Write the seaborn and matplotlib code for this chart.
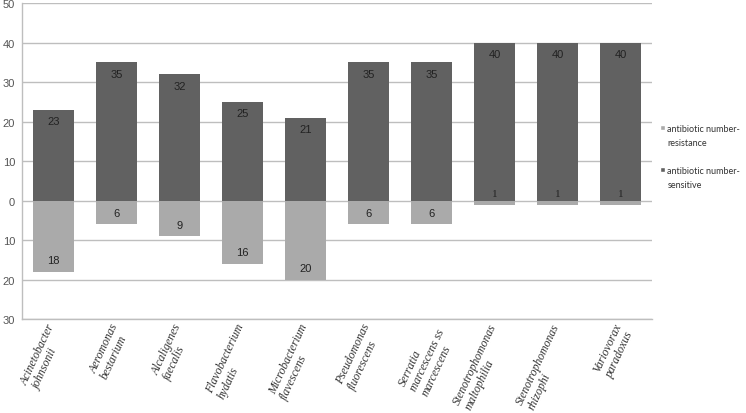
import matplotlib
matplotlib.use("Agg")
import matplotlib.pyplot as plt
import matplotlib.ticker as ticker
import matplotlib.transforms as mtransforms
from matplotlib.patches import Patch
import seaborn as sns

categories = ["Acinetobacter\njohnsonii", "Aeromonas\nbestarium", "Alcaligenes\nfaecalis",
              "Flavobacterium\nhydatis", "Microbacterium\nflavescens", "Pseudomonas\nfluorescens",
              "Serratia\nmarcescens ss\nmarcescens", "Stenotrophomonas\nmaltophilia",
              "Stenotrophomonas\nrhizophi", "Variovorax\nparadoxus"]
sensitive = [23, 35, 32, 25, 21, 35, 35, 40, 40, 40]
resistance = [18, 6, 9, 16, 20, 6, 6, 1, 1, 1]

dark = "#616161"
light = "#AAAAAA"

sns.set_style("white")
plt.rcParams["font.family"] = ["Liberation Sans", "DejaVu Sans"]

fig = plt.figure(figsize=(7.46, 4.14), dpi=100)
ax = fig.add_axes([0.0295, 0.227, 0.845, 0.763])

xs = list(range(len(categories)))
sns.barplot(x=xs, y=[-r for r in resistance], color=light, width=0.65,
            saturation=1, linewidth=0, ax=ax, zorder=3)
sns.barplot(x=xs, y=sensitive, color=dark, width=0.65,
            saturation=1, linewidth=0, ax=ax, zorder=3)

ax.set_ylim(-30, 50)
ax.set_xlim(-0.5, len(categories) - 0.5)
ax.yaxis.set_major_locator(ticker.MultipleLocator(10))
ax.yaxis.set_major_formatter(ticker.FuncFormatter(lambda v, p: "%d" % abs(v)))
ax.grid(axis="y", color="#BEBEBE", linewidth=1, zorder=0)
ax.set_axisbelow(True)

for s in ["top", "right"]:
    ax.spines[s].set_visible(False)
for s in ["left", "bottom"]:
    ax.spines[s].set_color("#BEBEBE")
    ax.spines[s].set_linewidth(1)

ax.tick_params(axis="y", length=0, labelsize=8, labelcolor="#555555", pad=5)
ax.tick_params(axis="x", length=0, pad=0)
ax.set_xticks(xs)
ax.set_xticklabels(categories, rotation=65, ha="right", va="top",
                   rotation_mode="anchor", multialignment="left", linespacing=1.1,
                   family="Liberation Serif", style="italic", fontsize=8.5, color="#333333")
shift = mtransforms.ScaledTranslation(-7 / 100, -2 / 100, fig.dpi_scale_trans)
for lbl in ax.get_xticklabels():
    lbl.set_transform(lbl.get_transform() + shift)
ax.set_xlabel("")
ax.set_ylabel("")

off = 2.9
for i, (s, r) in enumerate(zip(sensitive, resistance)):
    ax.text(i, s - off, str(s), ha="center", va="center", fontsize=8, color="#222222", zorder=4)
    fam = "Liberation Serif" if r == 1 else "Liberation Sans"
    ax.text(i, -r + off, str(r), ha="center", va="center", fontsize=8, color="#222222",
            family=fam, zorder=4)

blank = Patch(facecolor="none", edgecolor="none")
handles = [Patch(facecolor=light), blank, blank, Patch(facecolor=dark), blank]
labels = ["antibiotic number-", "resistance", " ", "antibiotic number-", "sensitive"]

# shrink the legend font until it fits inside the figure
size = 8.0
while True:
    leg = ax.legend(handles, labels, loc="center left", bbox_to_anchor=(1.0, 0.515),
                    frameon=False, prop={"family": "Lato", "size": size},
                    handlelength=0.55, handleheight=0.55, labelspacing=0.55,
                    handletextpad=0.3, borderaxespad=0.4, labelcolor="#333333")
    fig.canvas.draw()
    right = max(t.get_window_extent().x1 for t in leg.get_texts())
    if right <= fig.bbox.width - 2 or size <= 5:
        break
    size -= 0.25

fig.savefig("out.png", dpi=100)
